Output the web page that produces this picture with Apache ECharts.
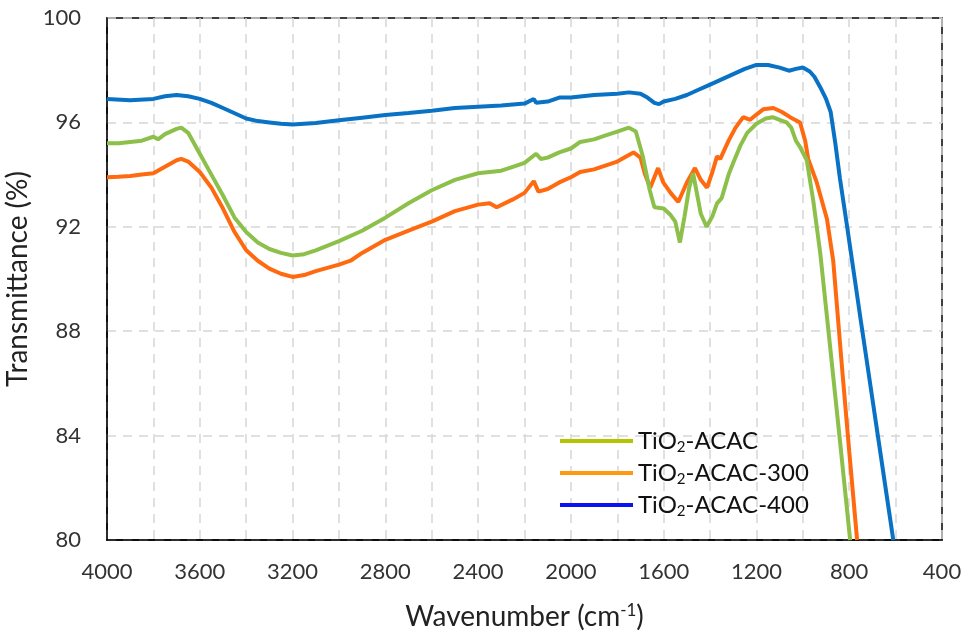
<!DOCTYPE html>
<html>
<head>
<meta charset="utf-8">
<script src="https://cdn.jsdelivr.net/npm/echarts@6/dist/echarts.min.js"></script>
<style>
html,body{margin:0;padding:0;background:#fff;}
#chart{width:965px;height:631px;}
</style>
</head>
<body>
<div id="chart"></div>
<script>
// Series names
const seriesNames = ['TiO2-ACAC', 'TiO2-ACAC-300', 'TiO2-ACAC-400'];

// X tick values (wavenumber, cm-1)
const xTicks = [4000, 3600, 3200, 2800, 2400, 2000, 1600, 1200, 800, 400];
// Y tick values (%)
const yTicks = [80, 84, 88, 92, 96, 100];

// TiO2-ACAC (green)
const wnAcac = [4000,3950,3900,3850,3800,3780,3750,3700,3680,3650,3600,3550,3500,3450,3400,3350,3300,3250,3200,3150,3100,3000,2900,2800,2700,2600,2500,2400,2300,2250,2200,2150,2130,2100,2050,2000,1960,1900,1850,1800,1750,1720,1690,1660,1640,1600,1570,1550,1530,1510,1490,1473,1455,1440,1415,1390,1370,1350,1320,1300,1270,1240,1200,1160,1130,1100,1070,1050,1030,1012,983,955,925,880,840,796];
const tAcac = [95.2,95.2,95.25,95.3,95.45,95.35,95.55,95.75,95.8,95.6,94.8,94.0,93.2,92.35,91.8,91.4,91.15,91.0,90.9,90.95,91.1,91.45,91.85,92.35,92.9,93.4,93.8,94.05,94.15,94.3,94.45,94.8,94.6,94.65,94.85,95.0,95.25,95.35,95.5,95.65,95.8,95.65,94.7,93.4,92.75,92.7,92.45,92.2,91.4,92.4,93.5,94.05,93.2,92.5,92.0,92.4,92.9,93.1,94.0,94.45,95.1,95.6,95.95,96.15,96.2,96.1,96.0,95.8,95.3,95.05,94.55,93.0,91.0,87.2,83.8,80.0];

// TiO2-ACAC-300 (orange)
const wn300 = [4000,3950,3900,3850,3800,3750,3700,3680,3650,3600,3550,3500,3450,3400,3350,3300,3250,3200,3150,3100,3000,2950,2900,2800,2700,2600,2500,2400,2350,2320,2250,2200,2160,2140,2100,2050,2000,1960,1900,1800,1750,1730,1700,1680,1658,1640,1624,1602,1570,1537,1500,1465,1440,1413,1390,1370,1356,1320,1290,1257,1227,1200,1171,1127,1090,1055,1012,990,977,940,896,869,830,800,766];
const t300 = [93.9,93.92,93.95,94.0,94.05,94.3,94.55,94.6,94.5,94.1,93.5,92.7,91.8,91.1,90.7,90.4,90.2,90.08,90.15,90.3,90.55,90.7,91.0,91.5,91.85,92.2,92.6,92.85,92.9,92.75,93.05,93.3,93.75,93.35,93.45,93.7,93.9,94.1,94.2,94.5,94.75,94.85,94.65,94.0,93.5,93.9,94.25,93.7,93.3,92.95,93.7,94.25,93.8,93.5,94.1,94.7,94.6,95.3,95.8,96.2,96.1,96.3,96.5,96.55,96.4,96.2,96.0,95.3,94.6,93.7,92.3,90.7,86.5,83.4,80.0];

// TiO2-ACAC-400 (blue)
const wn400 = [4000,3900,3800,3750,3700,3650,3600,3550,3500,3450,3400,3350,3300,3250,3200,3100,3000,2900,2800,2700,2600,2500,2400,2300,2200,2160,2150,2100,2050,2000,1900,1800,1750,1700,1670,1640,1620,1600,1550,1500,1450,1400,1350,1300,1250,1200,1150,1100,1060,1030,1000,970,950,925,900,880,860,840,809,750,700,650,610];
const t400 = [96.9,96.85,96.9,97.0,97.05,97.0,96.9,96.75,96.55,96.35,96.15,96.05,96.0,95.95,95.92,95.98,96.08,96.18,96.28,96.36,96.45,96.55,96.6,96.65,96.72,96.9,96.75,96.8,96.95,96.95,97.05,97.1,97.15,97.1,96.95,96.75,96.7,96.8,96.9,97.05,97.25,97.45,97.65,97.85,98.05,98.2,98.2,98.1,97.98,98.05,98.1,97.95,97.75,97.35,96.9,96.4,95.2,93.85,92.0,88.4,85.4,82.4,80.0];

const seriesColors = ['#8DC04A', '#FF6A10', '#0A72C4'];
const legendColors = ['#B4C400', '#FF9A10', '#0A14F0'];

const FONT = 'Lato';

function pairs(xs, ys){ return xs.map((x,i)=>[x, ys[i]]); }

const chart = echarts.init(document.getElementById('chart'), null, {renderer:'canvas'});
const dataSets = [pairs(wnAcac, tAcac), pairs(wn300, t300), pairs(wn400, t400)];

const option = {
  backgroundColor: '#fff',
  animation: false,
  grid: {left: 107, right: 23, top: 18, bottom: 91, show: true, borderColor: '#000', borderWidth: 1.5,
    containLabel: false, outerBoundsMode: 'none'},
  xAxis: {
    type: 'value', inverse: true,
    min: xTicks[xTicks.length-1], max: xTicks[0], interval: 400,
    axisLine: {show: true, lineStyle: {color: '#000', width: 1.5}},
    axisTick: {show: false},
    axisLabel: {fontFamily: FONT, fontSize: 22, color: '#333', margin: 21,
      formatter: function(v){ return String(v); }},
    splitLine: {show: true, lineStyle: {color: '#D6D6D6', type: [9, 7], width: 1.5}},
    minorTick: {show: false, splitNumber: 2},
    minorSplitLine: {show: true, lineStyle: {color: '#D6D6D6', type: [9, 7], width: 1.5}},
    name: 'Wavenumber (cm{sup|-1})',
    nameLocation: 'middle', nameGap: 62,
    nameTextStyle: {fontFamily: FONT, fontSize: 28, color: '#222',
      rich: {sup: {fontFamily: FONT, fontSize: 17, color: '#222', padding: [0,0,12,0]}}}
  },
  yAxis: {
    type: 'value', min: yTicks[0], max: yTicks[yTicks.length-1], interval: 4,
    axisLine: {show: true, lineStyle: {color: '#000', width: 1.5}},
    axisTick: {show: false},
    axisLabel: {fontFamily: FONT, fontSize: 22, color: '#333', margin: 26},
    splitLine: {show: true, lineStyle: {color: '#D6D6D6', type: [9, 7], width: 1.5}},
    name: 'Transmittance (%)',
    nameLocation: 'middle', nameGap: 74,
    nameTextStyle: {fontFamily: FONT, fontSize: 28, color: '#222'}
  },
  legend: {
    orient: 'vertical', left: 555, top: 424,
    icon: 'rect', itemWidth: 73, itemHeight: 4, itemGap: 6,
    data: seriesNames.map((n,i)=>({name: n, itemStyle: {color: legendColors[i]}})),
    formatter: function(name){ return name.replace('TiO2', 'TiO{s|2}{t|') + '}'; },
    textStyle: {fontFamily: FONT, fontSize: 24, color: '#111',
      rich: {
        s: {fontFamily: FONT, fontSize: 15, color: '#111', padding: [13,0,0,0]},
        t: {fontFamily: FONT, fontSize: 24, color: '#111'}
      }}
  },
  series: seriesNames.map((n,i)=>({
    name: n, type: 'line', data: dataSets[i], symbol: 'none', smooth: false,
    lineStyle: {color: seriesColors[i], width: 4},
    itemStyle: {color: seriesColors[i]},
    z: 3 - i
  }))
};
chart.setOption(option);
</script>
</body>
</html>
